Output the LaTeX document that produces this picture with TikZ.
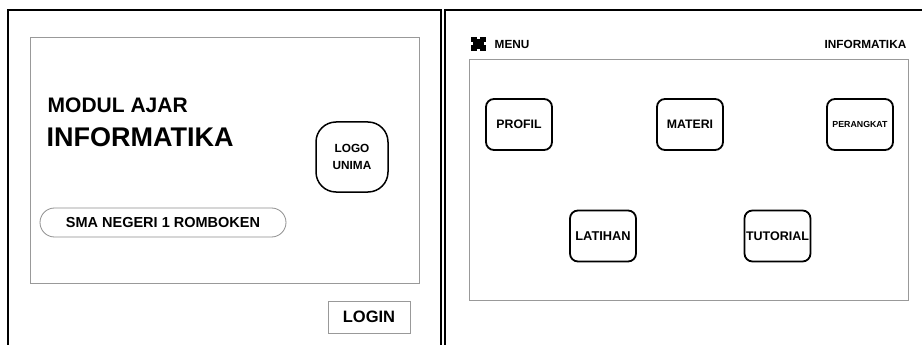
\documentclass[tikz,border=0pt]{standalone}
\usepackage{fontspec}
\setmainfont{Liberation Sans}
\begin{document}
\begin{tikzpicture}[x=1pt,y=-1pt,
  frame/.style={draw=black,line width=1.2pt},
  graybox/.style={draw=black!40,line width=0.9pt},
  btn/.style={draw=black,line width=1.8pt,rounded corners=8pt,minimum width=66pt,minimum height=51pt,inner sep=0pt,font=\bfseries\fontsize{12.3}{14}\selectfont},
  lbl/.style={inner sep=0pt,font=\bfseries}
]
\useasboundingbox (0,0) rectangle (922,345);
% outer frames
\draw[frame] (8,347) -- (8,10) -- (441,10) -- (441,347);
\draw[frame] (445,347) -- (445,10) -- (924,10);
% ---------- left panel
\node[graybox,minimum width=389pt,minimum height=246pt,inner sep=0pt] (inner1) at (224.5,160) {};
\node[lbl,anchor=west,font=\bfseries\fontsize{21}{23}\selectfont] (modul) at (47.5,105) {MODUL AJAR};
\node[lbl,anchor=west,font=\bfseries\fontsize{27}{29}\selectfont] (info) at (46.5,137) {INFORMATIKA};
\node[draw=black,line width=1.5pt,rounded corners=20pt,minimum width=72pt,minimum height=70pt,inner sep=0pt] (logo) at (352,157) {};
\node[lbl,font=\bfseries\fontsize{11.8}{17}\selectfont,align=center] (logotxt) at (logo.center) {LOGO\\UNIMA};
\node[draw=black!45,line width=0.8pt,rounded corners=14.5pt,minimum width=246pt,minimum height=29pt,inner sep=0pt] (sma) at (163,222.5) {};
\node[lbl,font=\bfseries\fontsize{14.5}{16}\selectfont] (smatxt) at (sma.center) {SMA NEGERI 1 ROMBOKEN};
\node[graybox,minimum width=82pt,minimum height=32pt,inner sep=0pt] (login) at (369,317) {};
\node[lbl,font=\bfseries\fontsize{16.5}{18}\selectfont] (logintxt) at (login.center) {LOGIN};
% ---------- right panel
\node[fill=black,minimum width=15pt,minimum height=14pt,inner sep=0pt] (icon) at (478.5,44) {};
\fill[white] (icon.north) ++(-1.5,0) rectangle ++(3,2.5);
\fill[white] (icon.south) ++(-1.5,0) rectangle ++(3,-2.5);
\fill[white] (icon.west) ++(0,-1.5) rectangle ++(2.5,3);
\fill[white] (icon.east) ++(0,-1.5) rectangle ++(-2.5,3);
\node[lbl,anchor=west,font=\bfseries\fontsize{11.8}{13}\selectfont] (menu) at (494.5,44) {MENU};
\node[lbl,anchor=east,font=\bfseries\fontsize{11.8}{13}\selectfont] (info2) at (906.5,44) {INFORMATIKA};
\node[graybox,minimum width=439pt,minimum height=241pt,inner sep=0pt] (inner2) at (688.5,179.5) {};
\node[btn] (profil) at (519,124.5) {PROFIL};
\node[btn] (materi) at (690,124.5) {MATERI};
\node[btn,font=\bfseries\fontsize{8.8}{10}\selectfont] (perangkat) at (860,124.5) {\raisebox{1pt}{PERANGKAT}};
\node[btn] (latihan) at (603,236) {\raisebox{-1pt}{\fontsize{12.8}{14}\selectfont LATIHAN}};
\node[btn] (tutorial) at (777.5,236) {\fontsize{12.5}{14}\selectfont TUTORIAL};
\end{tikzpicture}
\end{document}
